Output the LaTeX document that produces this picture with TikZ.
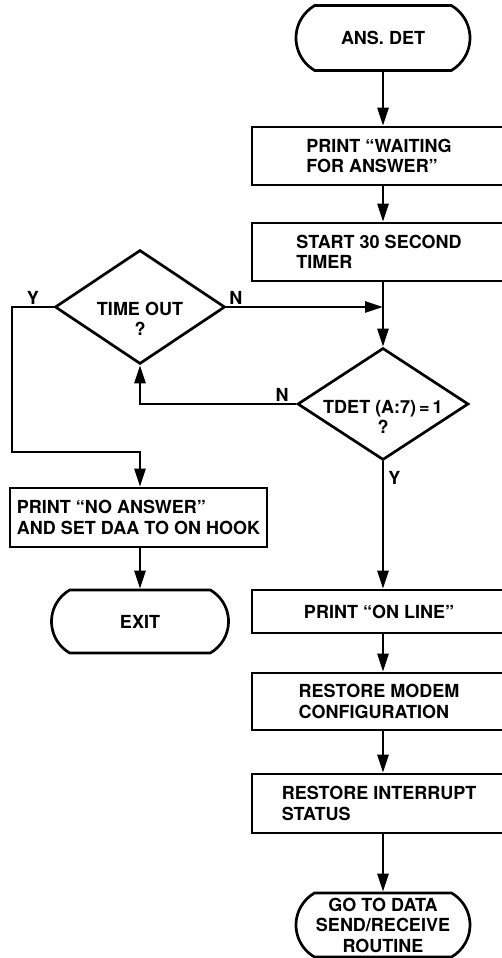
\documentclass[tikz,border=0pt]{standalone}
\usepackage{fontspec}
\setmainfont{TeX Gyre Heros}
\usepackage{tikz}
\usetikzlibrary{arrows.meta,positioning,shapes.geometric,shapes.misc}

\begin{document}
\begin{tikzpicture}[x=1pt,y=1pt,>={Triangle[length=18pt,width=11pt]},line width=2.7pt,
  every node/.append style={font=\fontsize{18}{20.5}\selectfont\bfseries},
  box/.style={draw,rectangle,minimum width=254pt,minimum height=58pt,align=left,inner sep=0pt},
  term/.style={draw,rounded rectangle,rounded rectangle arc length=120,minimum width=174pt,minimum height=65pt,align=center,inner sep=0pt},
  test/.style={draw,diamond,inner sep=0pt},
  lbl/.style={inner sep=1pt}]
\useasboundingbox (0,0) rectangle (502,958);
\node[term](a) at (383,920) {ANS. DET};
\node[box](b) at (379,802) {PRINT “WAITING\\FOR ANSWER”};
\node[box](c) at (379,706) {START 30 SECOND\\TIMER};
\node[test,minimum width=170pt,minimum height=114pt,
  label={[yshift=-12pt,align=center]center:{TIME OUT\\?}}](t) at (140,651) {};
\node[test,minimum width=171pt,minimum height=112pt,
  label={[yshift=-13pt,align=center]center:{TDET (A:7)\,=\,1\\?}}](d) at (383,554) {};
\node[box,minimum width=257pt,minimum height=59pt](e) at (138.5,440.5) {PRINT “NO ANSWER”\\AND SET DAA TO ON HOOK};
\node[term,minimum width=177pt,minimum height=63pt](x) at (140,336.5) {EXIT};
\node[box,minimum height=43pt](f) at (379,346.5) {PRINT “ON LINE”};
\node[box,minimum height=57pt](g) at (379,256.5) {RESTORE MODEM\\CONFIGURATION};
\node[box,minimum height=59pt](h) at (379,154.5) {RESTORE INTERRUPT\\STATUS};
\node[term,minimum height=64pt](k) at (383,33) {GO TO DATA\\SEND/RECEIVE\\ROUTINE};
\coordinate (yturn) at (12,506);
\draw[->] (a.south) -- (a.south |- b.north);
\draw[->] (a.south |- b.south) -- (a.south |- c.north);
\draw[->] (d.north |- c.south) -- (d.north);
\draw[->] (t.east) -- node[lbl,pos=0.06,above]{N} (t.east -| d.north);
\draw[->] (d.west) -| node[lbl,pos=0.045,above]{N} (t.south);
\draw[->] (t.west) -| node[lbl,pos=0.25,above]{Y} (yturn) -| (x.north |- e.north);
\draw[->] (e.south -| x.north) -- (x.north);
\draw[->] (d.south) -- node[lbl,pos=0.13,right=3pt]{Y} (d.south |- f.north);
\draw[->] (d.south |- f.south) -- (d.south |- g.north);
\draw[->] (d.south |- g.south) -- (d.south |- h.north);
\draw[->] (d.south |- h.south) -- (k.north);
\end{tikzpicture}
\end{document}
